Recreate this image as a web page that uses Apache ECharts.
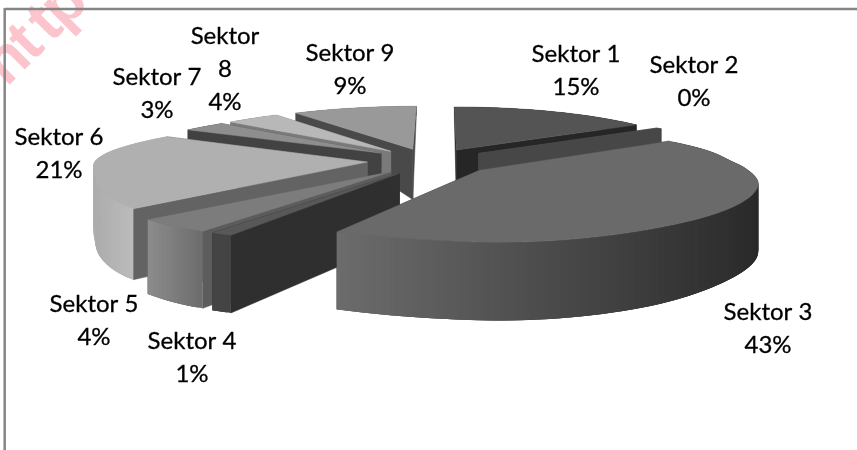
<!DOCTYPE html>
<html>
<head>
<meta charset="utf-8">
<style>html,body{margin:0;padding:0;background:#fff}#chart{width:857px;height:450px}</style>
<script src="https://cdn.jsdelivr.net/npm/echarts@6/dist/echarts.min.js"></script>
</head>
<body>
<div id="chart"></div>
<script>
// Sector shares, clockwise from twelve o'clock
const categories = ['Sektor 1','Sektor 2','Sektor 3','Sektor 4','Sektor 5','Sektor 6','Sektor 7','Sektor 8','Sektor 9'];
const shares = [15, 0.4, 43, 1, 4, 21, 3, 4, 9];

// Back-to-front painting order of the exploded wedges
const paintOrder = [8, 7, 6, 0, 1, 5, 4, 3, 2];

// Shades: top face, cut walls, rim gradient (left to right)
const topShades  = ['#545454','#4a4a4a','#6a6a6a','#585858','#7c7c7c','#b0b0b0','#8e8e8e','#b8b8b8','#999999'];
const wallShades = ['#262626','#474747','#333333','#2f2f2f','#5c5c5c','#636363','#424242','#7a7a7a','#494949'];
const rimShades  = [[51,51],[68,68],[108,42],[68,68],[140,108],[172,200],[102,102],[136,136],[119,119]];

// Label centres in pixels; line texts come from the names and shares
const labelCentres = [[576,71],[694,82],[768,329],[192,358],[94,321],[59,154],[157,94],[225,69],[350,70]];

// Depth profile of the tilted view: depth -> horizontal scale on each side, screen y, wall height, x shift
const scaleLeft  = [[-1.4,220],[-1.07,225],[-0.8,230],[-0.2,262],[0,272],[0.2,278],[0.36,288],[0.52,301],[0.7,320],[0.86,337],[1.03,355],[1.3,367]];
const scaleRight = [[-1.4,220],[-0.8,226],[-0.43,240],[-0.2,250],[0,258],[0.1,265],[0.35,279],[0.7,281],[1.03,276],[1.3,271]];
const screenY = [[-1.4,98],[-1.209,107],[-0.797,125],[-0.209,150],[0.02,162],[0.154,170],[0.6,202],[1.03,232],[1.3,254]];
const wallH   = [[-1.4,9],[-1.1,10],[-0.8,15],[-0.5,32],[-0.2,52],[0,64],[0.35,68],[0.7,71],[1,77],[1.3,79]];
const shiftX  = [[-1.4,431],[0,431],[1,449],[1.4,453]];
const EXPLODE = 0.235;

function lookup(table, v) {
  const n = table.length;
  if (v <= table[0][0]) return table[0][1];
  if (v >= table[n - 1][0]) return table[n - 1][1];
  let i = 0;
  while (table[i + 1][0] < v) i++;
  const slope = k => {
    const a = table[Math.max(k - 1, 0)], b = table[Math.min(k + 1, n - 1)];
    return (b[1] - a[1]) / (b[0] - a[0]);
  };
  const h = table[i + 1][0] - table[i][0], t = (v - table[i][0]) / h;
  const t2 = t * t, t3 = t2 * t;
  return (2*t3 - 3*t2 + 1) * table[i][1] + (t3 - 2*t2 + t) * h * slope(i)
       + (-2*t3 + 3*t2) * table[i + 1][1] + (t3 - t2) * h * slope(i + 1);
}

// Plane position to screen, on the top face or the underside
function project(u, v, under) {
  const x = lookup(shiftX, v) + lookup(u < 0 ? scaleLeft : scaleRight, v) * u;
  const y = lookup(screenY, v) + (under ? lookup(wallH, v) : 0);
  return [x, y];
}

const total = shares.reduce((a, b) => a + b, 0);
const startAngles = [];
shares.reduce((acc, s, i) => { startAngles[i] = acc; return acc + s; }, 0);

function wedge(index) {
  const a0 = startAngles[index] / total * 2 * Math.PI;
  const a1 = (startAngles[index] + shares[index]) / total * 2 * Math.PI;
  const mid = (a0 + a1) / 2;
  const ou = EXPLODE * Math.sin(mid), ov = -EXPLODE * Math.cos(mid);
  const steps = Math.max(2, Math.ceil((a1 - a0) / 0.015));
  const rim = [];
  for (let k = 0; k <= steps; k++) {
    const a = a0 + (a1 - a0) * k / steps;
    rim.push([ou + Math.sin(a), ov - Math.cos(a)]);
  }
  return { mid, apex: [ou, ov], rim };
}

function poly(points, fill) {
  return { type: 'polygon', shape: { points }, style: { fill, stroke: fill, lineWidth: 0.5 } };
}

function renderWedge(params, api) {
  const index = api.value(1);
  const w = wedge(index);
  const apexT = project(w.apex[0], w.apex[1], false), apexB = project(w.apex[0], w.apex[1], true);
  const rimT = w.rim.map(p => project(p[0], p[1], false));
  const rimB = w.rim.map(p => project(p[0], p[1], true));
  const last = rimT.length - 1;

  const cutWalls = [
    poly([apexT, rimT[0], rimB[0], apexB], wallShades[index]),
    poly([apexT, rimT[last], rimB[last], apexB], wallShades[index])
  ];

  // The rim is a run of overlapping strips, shaded by their position across the wedge
  const xs = rimT.map(p => p[0]);
  const minX = Math.min.apply(null, xs), maxX = Math.max.apply(null, xs);
  const rimStrips = [];
  for (let k = 0; k < last; k++) {
    const t = maxX > minX ? ((rimT[k][0] + rimT[k + 1][0]) / 2 - minX) / (maxX - minX) : 0;
    const g = Math.round(rimShades[index][0] + (rimShades[index][1] - rimShades[index][0]) * t);
    const fill = 'rgb(' + g + ',' + g + ',' + g + ')';
    const end = Math.min(k + 3, last);
    rimStrips.push({ type: 'polygon', shape: { points: [rimT[k], rimT[end], rimB[end], rimB[k]] }, style: { fill } });
  }
  const top = poly([apexT].concat(rimT), topShades[index]);

  const sides = Math.cos(w.mid) < 0 ? cutWalls.concat(rimStrips) : rimStrips.concat(cutWalls);
  return { type: 'group', children: sides.concat([top]) };
}

const pct = s => Math.round(s / total * 100) + '%';
const wrapName = (name, i) => i === 7 ? name.replace(' ', '\n') : name;

const labelItems = categories.map((name, i) => ({
  type: 'text', silent: true, z: 10,
  x: labelCentres[i][0], y: labelCentres[i][1],
  style: {
    text: wrapName(name, i) + '\n' + pct(shares[i]),
    align: 'center', verticalAlign: 'middle',
    fontFamily: 'Lato', fontSize: 24, lineHeight: 33, fill: '#000',
    stroke: '#000', lineWidth: 0.3
  }
}));

// Pink stamp letters running up the top-left corner
const stampLetters = ['h', 't', 't', 'p'];
const stampItems = stampLetters.map((ch, i) => ({
  type: 'text', silent: true, z: -2,
  x: 8 + i * 19, y: 62 - i * 19, rotation: Math.PI / 4,
  style: { text: ch, fontFamily: 'Liberation Sans', fontWeight: 'bold', fontSize: 62, fill: '#fcc5ce', align: 'center', verticalAlign: 'middle' }
}));

// Chart frame: only the top and left edges fall inside the window
const frameItems = [
  { type: 'line', silent: true, z: -1, shape: { x1: 4.7, y1: 9, x2: 857, y2: 9 }, style: { stroke: '#858585', lineWidth: 2.5 } },
  { type: 'line', silent: true, z: -1, shape: { x1: 4.7, y1: 8, x2: 4.7, y2: 450 }, style: { stroke: '#858585', lineWidth: 2.5 } }
];

const chart = echarts.init(document.getElementById('chart'), null, { renderer: 'canvas' });
chart.setOption({
  animation: false,
  backgroundColor: '#fff',
  graphic: { elements: stampItems.concat(frameItems).concat(labelItems) },
  series: [{
    type: 'custom',
    coordinateSystem: 'none',
    silent: true,
    renderItem: renderWedge,
    data: paintOrder.map(i => ({ name: categories[i], value: [shares[i], i] }))
  }]
});
</script>
</body>
</html>
